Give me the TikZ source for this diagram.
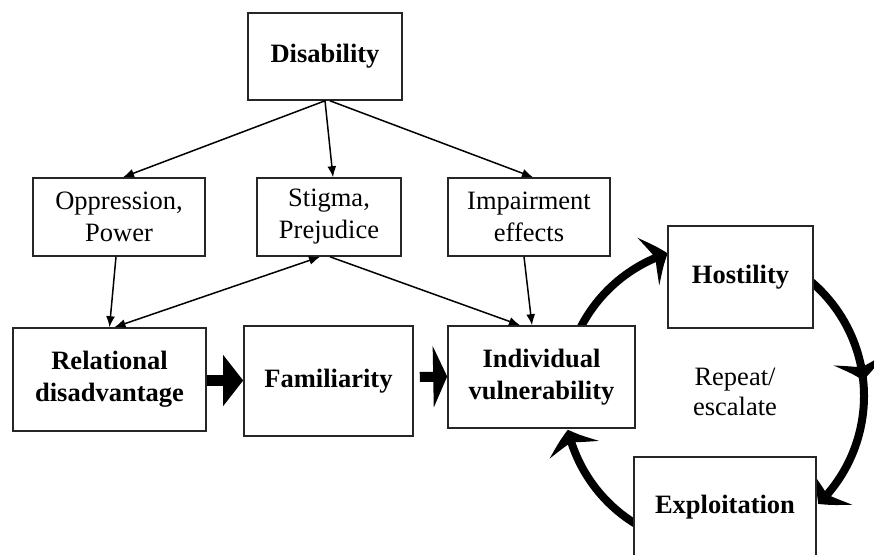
\documentclass[tikz,border=0pt]{standalone}
\usepackage{fontspec}
\setmainfont{Liberation Serif}
\usetikzlibrary{arrows.meta,bending}
\tikzset{
  box/.style={draw=black!85, line width=1.6pt, fill=white, inner sep=0pt, align=center,
    font=\fontsize{26.5}{32}\selectfont},
  boldbox/.style={box, font=\fontsize{26.5}{32}\selectfont\bfseries},
  thin/.style={line width=1.5pt, -{Latex[length=11pt,width=9pt]}},
  cyc/.style={line width=8pt, -{Stealth[length=21pt,width=52pt,inset=8pt,bend]}},
  block/.style={draw=black, line width=11pt}
}
\begin{document}
\begin{tikzpicture}[x=1pt,y=-1pt]
\clip (0,0) rectangle (874,554);
\fill[white] (0,0) rectangle (874,554);
\coordinate (C) at (714,396);
% cycle arcs
\draw[cyc] (C) ++(198:150) arc[start angle=198, end angle=252, radius=150];
\draw[cyc] (C) ++(300:150) arc[start angle=300, end angle=354, radius=150];
\draw[cyc] (C) ++(348:150) arc[start angle=348, end angle=406, radius=150];
\draw[cyc] (C) ++(112:150) arc[start angle=112, end angle=167, radius=150];
% boxes
\node[boldbox, minimum width=154pt, minimum height=87pt] (dis) at (325,56.5) {Disability};
\node[box, minimum width=172pt, minimum height=78pt] (opp) at (119,217) {Oppression,\\Power};
\node[box, minimum width=144pt, minimum height=78pt] (stig) at (329,217) {Stigma,\\Prejudice};
\node[box, minimum width=162pt, minimum height=78pt] (imp) at (529,217) {Impairment\\effects};
\node[boldbox, minimum width=193pt, minimum height=103pt] (rel) at (109.5,379.5) {Relational\\disadvantage};
\node[boldbox, minimum width=169pt, minimum height=110pt] (fam) at (328.5,381) {Familiarity};
\node[boldbox, minimum width=187pt, minimum height=102pt] (ind) at (541.5,377) {Individual\\vulnerability};
\node[boldbox, minimum width=145pt, minimum height=102pt] (host) at (740.5,277) {Hostility};
\node[boldbox, minimum width=182pt, minimum height=100pt] (expl) at (725,507) {Exploitation};
\node[font=\fontsize{26.5}{30}\selectfont, align=center, inner sep=0pt] (rep) at (735,392) {Repeat/\\escalate};
% thin arrows
\draw[thin] (dis.south) -- ([xshift=4pt]opp.north);
\draw[thin] (dis.south) -- ([xshift=4pt]stig.north);
\draw[thin] ([xshift=5pt]dis.south) -- ([xshift=4pt]imp.north);
\draw[thin] ([xshift=-3pt]opp.south) -- (rel.north);
\draw[line width=1.5pt, {Latex[length=11pt,width=9pt]}-{Latex[length=11pt,width=9pt]}] ([xshift=-9pt]stig.south) -- ([xshift=5pt]rel.north);
\draw[thin] ([xshift=1pt]stig.south) -- ([xshift=-21.5pt]ind.north);
\draw[thin] ([xshift=-5pt]imp.south) -- ([xshift=-9.5pt]ind.north);
% block arrows
\draw[block, -{Triangle[length=20pt,width=50pt]}] ([yshift=-1pt]rel.east) -- ([yshift=-1pt]rel.east -| fam.west);
\draw[block, line width=10pt, -{Triangle[length=14pt,width=61pt]}] ([xshift=6pt]fam.east |- ind.west) -- ([yshift=0.5pt]ind.west);
\end{tikzpicture}
\end{document}
